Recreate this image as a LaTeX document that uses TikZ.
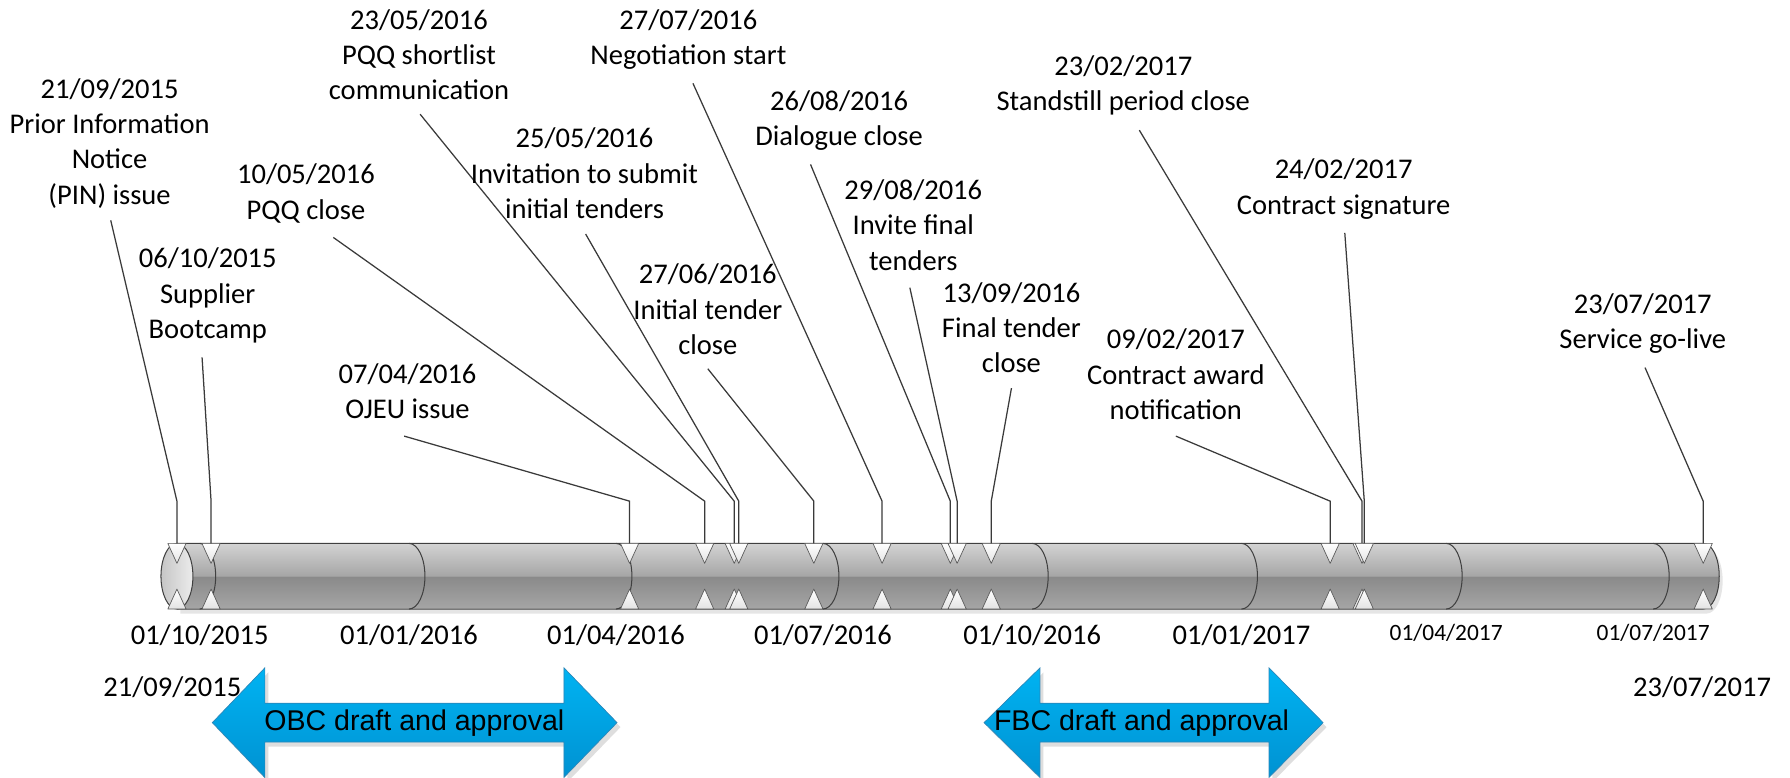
\documentclass[tikz,border=0pt]{standalone}
\usepackage{fontspec}
\setmainfont{Carlito}
\newfontfamily\bandfont{Liberation Sans}
\usetikzlibrary{calc}

\definecolor{barTop}{HTML}{D3D3D3}
\definecolor{barMidUp}{HTML}{A6A6A6}
\definecolor{barMidLo}{HTML}{8A8A8A}
\definecolor{barLow}{HTML}{A4A4A4}
\definecolor{barEdge}{HTML}{D0D0D0}
\definecolor{seamc}{HTML}{404040}
\definecolor{leaderc}{HTML}{3A3A3A}
\definecolor{bandTop}{HTML}{00B3F2}
\definecolor{bandBot}{HTML}{0092D2}
\definecolor{bandLine}{HTML}{2C86B8}

% cylinder body: light upper half, darker lower half
\pgfdeclareverticalshading{barshade}{100bp}{color(0bp)=(barEdge); color(25bp)=(barEdge); color(26.5bp)=(barLow); color(49.6bp)=(barMidLo); color(50.4bp)=(barMidUp); color(75bp)=(barTop); color(100bp)=(barTop)}

% day offset from 21/09/2015 -> x position
\newcommand\dayx[1]{155+1.9925*#1}

% one milestone: name, day offset, label centre x, label centre y, text, leader start x, leader start y
\newcommand\milestone[7]{%
  \pgfmathsetmacro\ex{\dayx{#2}}
  \draw[marktri] ({\ex-8},476) -- ({\ex+8},476) -- (\ex,493.5) -- cycle;
  \draw[marktri] ({\ex-8},533.5) -- ({\ex+8},533.5) -- (\ex,516) -- cycle;
  \node[lbl] (t#1) at (#3,#4) {#5};
  \coordinate (s#1) at (#6,#7);
  \coordinate (e#1) at (\ex,439);
  \coordinate (m#1) at (\ex,476);
  \draw[leader] (s#1) -- (e#1) -- (m#1);
}

\begin{document}
\begin{tikzpicture}[x=1pt,y=-1pt,
  lbl/.style={font=\fontsize{25}{31}\selectfont, align=center, inner sep=0pt},
  axislbl/.style={font=\fontsize{25}{31}\selectfont, inner sep=0pt},
  axissmall/.style={font=\fontsize{20.5}{25}\selectfont, inner sep=0pt},
  leader/.style={draw=leaderc, line width=1.1pt},
  seamline/.style={draw=seamc, line width=0.9pt},
  marktri/.style={draw=gray!70!black, line width=0.6pt, top color=white, bottom color=gray!22, line join=round},
  band/.style={draw=bandLine, line width=0.6pt, top color=bandTop, bottom color=bandBot},
  bandtxt/.style={font=\bandfont\fontsize{25}{30}\selectfont, inner sep=0pt},
]
\useasboundingbox (0,0) rectangle (1568,681);

% soft shadow of the timeline bar
\fill[black!10] (158,480) -- (1495,480) arc[start angle=-90,end angle=90,x radius=14,y radius=28.75] -- (158,537.5) -- cycle;
% timeline bar body
\shade[shading=barshade] (155,476) -- (1492,476) arc[start angle=-90,end angle=90,x radius=14,y radius=28.75] -- (155,533.5) -- cycle;
\draw[seamline] (155,476) -- (1492,476) arc[start angle=-90,end angle=90,x radius=14,y radius=28.75] -- (155,533.5);
% quarter seams
\foreach \b in {10,102,193,284,376,468,558,649}
  \draw[seamline] ({\dayx{\b}},476) arc[start angle=-90,end angle=90,x radius=14,y radius=28.75];
% left end cap
\draw[seamline, left color=gray!45, right color=gray!15] (155,504.75) ellipse[x radius=14,y radius=28.75];

% milestones
\milestone{a}{0}{96}{125.5}{21/09/2015\\Prior Information\\Notice\\(PIN) issue}{97}{193}
\milestone{b}{15}{182}{259}{06/10/2015\\Supplier\\Bootcamp}{177}{313}
\milestone{c}{199}{357}{342.5}{07/04/2016\\OJEU issue}{354}{382}
\milestone{d}{232}{268}{169.5}{10/05/2016\\PQQ close}{292}{208}
\milestone{e}{245}{367}{48}{23/05/2016\\PQQ shortlist\\communication}{368}{100}
\milestone{f}{247}{512}{152}{25/05/2016\\Invitation to submit\\initial tenders}{513}{205}
\milestone{g}{280}{620}{271}{27/06/2016\\Initial tender\\close}{620}{323}
\milestone{h}{310}{603}{34.5}{27/07/2016\\Negotiation start}{607}{73}
\milestone{i}{340}{735}{105.5}{26/08/2016\\Dialogue close}{710}{144}
\milestone{j}{343}{800}{197}{29/08/2016\\Invite final\\tenders}{797}{252}
\milestone{k}{358}{886}{287}{13/09/2016\\Final tender\\close}{886}{340}
\milestone{l}{507}{1030}{328}{09/02/2017\\Contract award\\notification}{1030}{382}
\milestone{m}{521}{984}{75}{23/02/2017\\Standstill period close}{998}{114}
\milestone{n}{522}{1177}{165.5}{24/02/2017\\Contract signature}{1178}{204}
\milestone{o}{671}{1439}{283.5}{23/07/2017\\Service go-live}{1441}{322}

% axis dates
\node[axislbl] (q1) at ({\dayx{10}},556) {01/10/2015};
\node[axislbl] (q2) at ({\dayx{102}},556) {01/01/2016};
\node[axislbl] (q3) at ({\dayx{193}},556) {01/04/2016};
\node[axislbl] (q4) at ({\dayx{284}},556) {01/07/2016};
\node[axislbl] (q5) at ({\dayx{376}},556) {01/10/2016};
\node[axislbl] (q6) at ({\dayx{468}},556) {01/01/2017};
\node[axissmall] (q7) at ({\dayx{558}},554) {01/04/2017};
\node[axissmall] (q8) at ({\dayx{649}},554) {01/07/2017};
\node[axislbl] (startd) at (151,602) {21/09/2015};
\node[axislbl] (endd) at (1491,602) {23/07/2017};

% business case periods
\fill[black!13] (189,637) -- (235,589) -- (235,620) -- (497,620) -- (497,589) -- (543.5,637) -- (497,685) -- (497,654) -- (235,654) -- (235,685) -- cycle;
\draw[band] (186,633) -- (232,585) -- (232,616) -- (494,616) -- (494,585) -- (540.5,633) -- (494,681) -- (494,650) -- (232,650) -- (232,681) -- cycle;
\node[bandtxt] (obc) at (363,633) {OBC draft and approval};

\fill[black!13] (865,637) -- (914,589) -- (914,620) -- (1114.6,620) -- (1114.6,589) -- (1162,637) -- (1114.6,685) -- (1114.6,654) -- (914,654) -- (914,685) -- cycle;
\draw[band] (862,633) -- (911,585) -- (911,616) -- (1111.6,616) -- (1111.6,585) -- (1159,633) -- (1111.6,681) -- (1111.6,650) -- (911,650) -- (911,681) -- cycle;
\node[bandtxt] (fbc) at (1000,633) {FBC draft and approval};
\end{tikzpicture}
\end{document}
